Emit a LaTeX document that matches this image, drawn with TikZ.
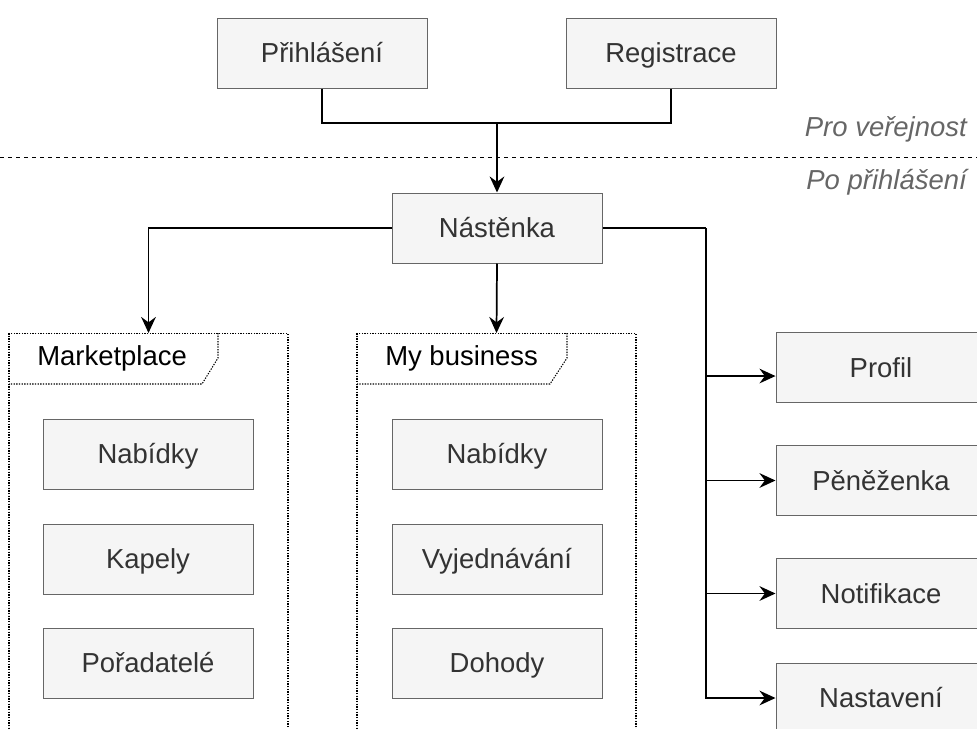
\documentclass[tikz,border=0pt]{standalone}
\usepackage{fontspec}
\setmainfont{Liberation Sans}
\usepackage{xcolor}
\usetikzlibrary{calc, arrows.meta}
\definecolor{boxfill}{HTML}{F5F5F5}
\definecolor{boxline}{HTML}{666666}
\definecolor{boxtext}{HTML}{333333}
\definecolor{zonetext}{HTML}{666666}

\begin{document}
\begin{tikzpicture}[x=0.75pt, y=-0.75pt,
    every node/.style={font=\fontsize{20.6}{24}\selectfont, inner sep=0pt},
    page/.style={draw=boxline, line width=0.75pt, fill=boxfill, text=boxtext,
        minimum width=157.5pt, minimum height=52.5pt, text height=14.7pt, text depth=0pt},
    group/.style={draw=black, line width=0.8pt, dash pattern=on 1pt off 1pt,
        minimum width=209.25pt, minimum height=310pt, anchor=north},
    tab/.style={draw=black, line width=0.8pt, dash pattern=on 1pt off 1pt},
    zone/.style={text=zonetext, font=\fontsize{20.6}{24}\selectfont\itshape, anchor=base east},
    link/.style={draw=black, line width=1.3pt},
    arrow/.style={link, -{Stealth[length=12pt, width=11pt, inset=4pt]}}]
    \useasboundingbox (0,0) rectangle (977,728);

    % Public part
    \node[page] (login) at (322,53) {Přihlášení};
    \node[page] (signup) at (671,53) {Registrace};
    \coordinate (merge) at (497,123);

    % Separator and zone labels
    \draw[line width=0.75pt, dash pattern=on 3pt off 3pt] (0,157) -- (977,157);
    \node[zone] (public) at (967,136) {Pro veřejnost};
    \node[zone] (private) at (967,189) {Po přihlášení};

    % Dashboard
    \node[page] (dash) at (497,228) {Nástěnka};

    % Two groups with tabs
    \node[group] (market) at (148.5,333) {};
    \node[group] (business) at (496.5,333) {};
    \draw[tab] (218,333) -- (218,358) -- (202,384) -- (9,384);
    \draw[tab] (567,333) -- (567,358) -- (550,384) -- (357,384);
    \node[anchor=base west] (markettab) at (37,365) {Marketplace};
    \node[anchor=base west] (businesstab) at (385,365) {My business};

    % Pages inside the groups
    \foreach \n/\y/\t in {offers/454/Nabídky, bands/559/Kapely, hosts/663/Pořadatelé} {
        \node[page] (\n) at (148,\y) {\t};
    }
    \foreach \n/\y/\t in {myoffers/454/Nabídky, talks/559/Vyjednávání, deals/663/Dohody} {
        \node[page] (\n) at (497,\y) {\t};
    }

    % Pages on the right
    \foreach \n/\y/\t in {profile/367.5/Profil, wallet/480.5/Pěněženka, notes/593.5/Notifikace, setup/698/Nastavení} {
        \node[page] (\n) at (881,\y) {\t};
    }
    \coordinate (trunk) at (706,228);

    % Connectors
    \draw[link] (login.south) |- (merge) -| (signup.south);
    \draw[arrow] (merge) -- (dash.north);
    \draw[arrow] (dash.west) -| (market.north);
    \draw[arrow] (dash.south) -- (business.north);
    \draw[link] (dash.east) -- (trunk);
    \draw[arrow] (trunk) |- ([yshift=-6.4pt]profile.west);
    \foreach \n in {wallet, notes, setup} {
        \draw[arrow] (trunk) |- (\n.west);
    }
\end{tikzpicture}
\end{document}
